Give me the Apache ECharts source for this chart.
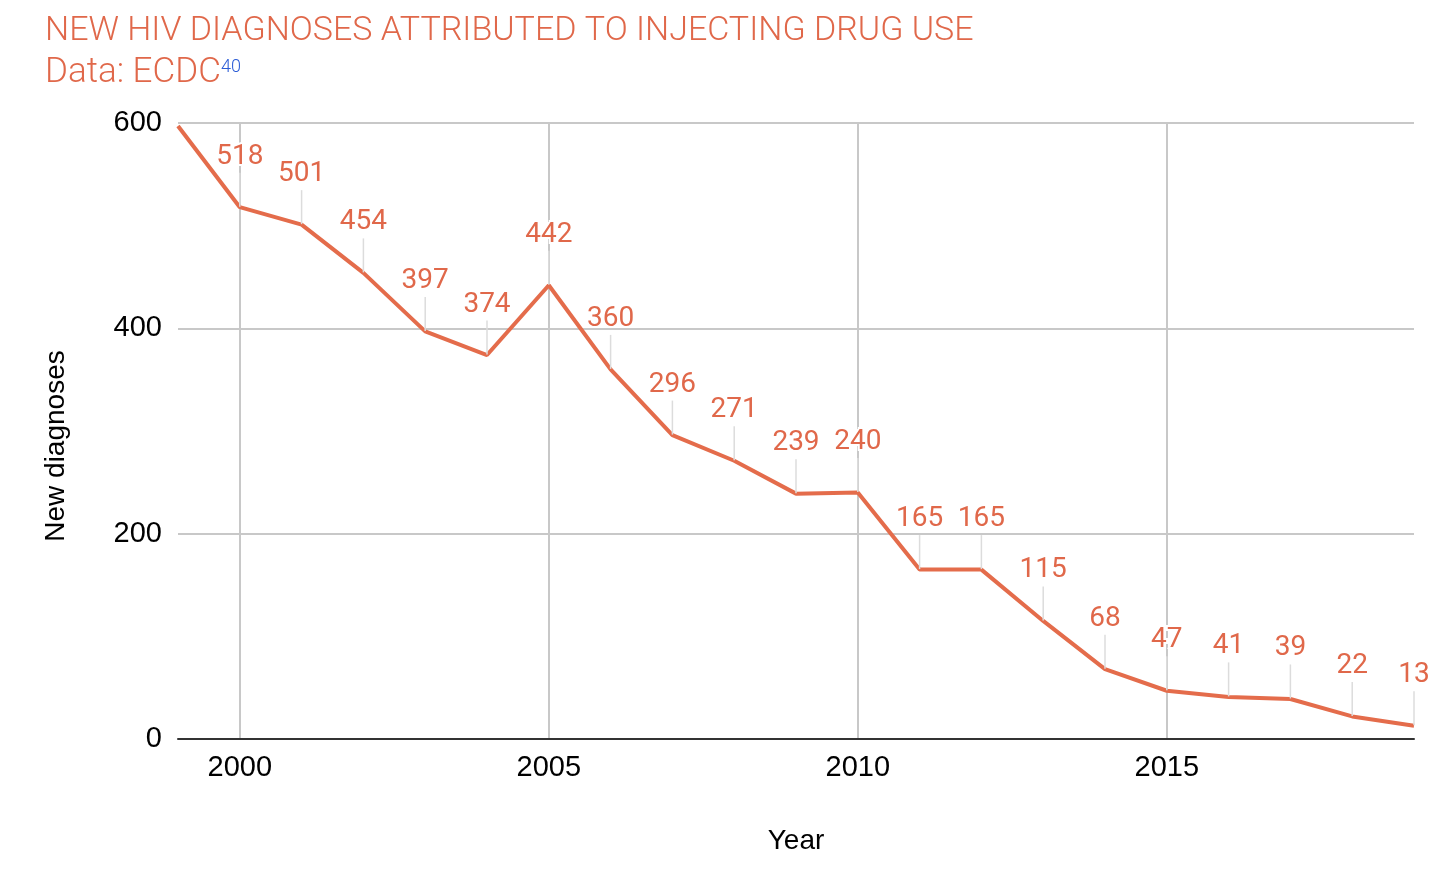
<!DOCTYPE html>
<html>
<head>
<meta charset="utf-8">
<script src="https://cdn.jsdelivr.net/npm/echarts@6/dist/echarts.min.js"></script>
<style>
html,body{margin:0;padding:0;background:#fff;}
#chart{width:1456px;height:884px;}
</style>
</head>
<body>
<div id="chart"></div>
<script>
const years = ['1999','2000','2001','2002','2003','2004','2005','2006','2007','2008','2009','2010','2011','2012','2013','2014','2015','2016','2017','2018','2019'];
const diagnoses = [597,518,501,454,397,374,442,360,296,271,239,240,165,165,115,68,47,41,39,22,13];
const yTicks = [0,200,400,600];
const titleText = 'NEW HIV DIAGNOSES ATTRIBUTED TO INJECTING DRUG USE';
const sourceText = 'Data: ECDC';
const sourceRef = '40';

const orange = '#E46C4B';
const chart = echarts.init(document.getElementById('chart'));
const isMajor = (i) => (parseInt(years[i], 10) % 5) === 0;

const seriesData = diagnoses.map((v, i) => i === 0
  ? { value: v, label: { show: false }, labelLine: { show: false } }
  : v);

chart.setOption({
  animation: false,
  backgroundColor: '#fff',
  title: {
    left: 40,
    top: 9,
    text: titleText,
    subtext: sourceText + '{sup|' + sourceRef + '}',
    itemGap: 8,
    textStyle: { fontFamily: 'Roboto', fontWeight: 300, fontSize: 34, color: '#E0684A' },
    subtextStyle: {
      fontFamily: 'Roboto', fontWeight: 300, fontSize: 35, color: '#E0684A',
      rich: { sup: { fontFamily: 'Roboto', fontWeight: 300, fontSize: 18, color: '#2B5CD6', verticalAlign: 'top', padding: [2,0,0,0] } }
    }
  },
  grid: { left: 178, right: 42, top: 123, bottom: 145, containLabel: false },
  xAxis: {
    type: 'category',
    data: years,
    boundaryGap: false,
    name: 'Year',
    nameLocation: 'middle',
    nameGap: 88,
    nameTextStyle: { fontFamily: 'Liberation Sans', fontSize: 28, color: '#000' },
    axisTick: { show: false },
    axisLine: { lineStyle: { color: '#333', width: 2 } },
    axisLabel: {
      interval: (i) => isMajor(i),
      fontFamily: 'Liberation Sans', fontSize: 29, color: '#000', margin: 14
    },
    splitLine: { show: true, interval: (i) => isMajor(i), lineStyle: { color: '#c8c8c8', width: 2 } }
  },
  yAxis: {
    type: 'value',
    min: yTicks[0],
    max: yTicks[yTicks.length - 1],
    interval: 200,
    name: 'New diagnoses',
    nameLocation: 'middle',
    nameGap: 108,
    nameTextStyle: { fontFamily: 'Liberation Sans', fontSize: 28, color: '#000', padding: [0, 30, 0, 0] },
    axisLine: { show: false },
    axisTick: { show: false },
    axisLabel: { fontFamily: 'Liberation Sans', fontSize: 29, color: '#000', margin: 16 },
    splitLine: { lineStyle: { color: '#c8c8c8', width: 2 } }
  },
  series: [{
    type: 'line',
    data: seriesData,
    symbol: 'circle',
    symbolSize: 1,
    showSymbol: true,
    itemStyle: { color: 'rgba(0,0,0,0)' },
    lineStyle: { color: orange, width: 4 },
    label: {
      show: true,
      position: 'top',
      distance: 5,
      fontFamily: 'Roboto',
      fontSize: 28,
      color: '#E0684A',
      textBorderColor: '#fff',
      textBorderWidth: 4
    },
    labelLayout: { dy: -31 },
    labelLine: { show: true, lineStyle: { color: '#dcdcdc', width: 1.5 } },
    emphasis: { disabled: true }
  }]
});
</script>
</body>
</html>
